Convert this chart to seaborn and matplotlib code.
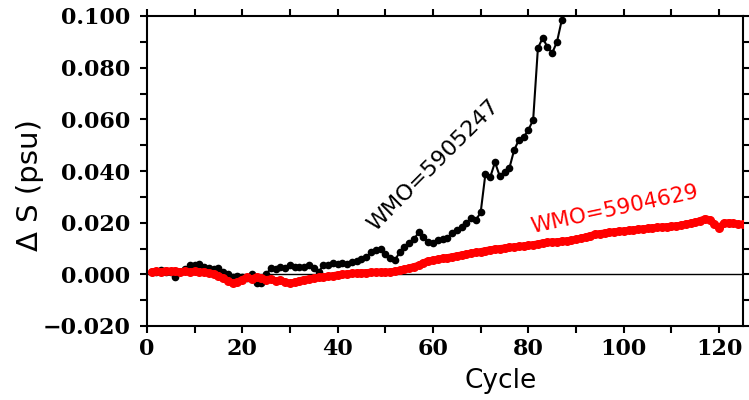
import numpy as np
import pandas as pd
import matplotlib
matplotlib.use("Agg")
import matplotlib.pyplot as plt
from matplotlib.ticker import MultipleLocator, FuncFormatter
import seaborn as sns

# float WMO=5905247 (black), one value per cycle, psu
black_cycles = list(range(1, 89))
black_ds = [
    0.0010, 0.0010, 0.0015, 0.0010, 0.0010, -0.0010, 0.0010, 0.0020, 0.0035, 0.0035,
    0.0040, 0.0030, 0.0025, 0.0020, 0.0023, 0.0010, 0.0000, -0.0010, -0.0005, -0.0010,
    -0.0015, 0.0003, -0.0035, -0.0035, 0.0000, 0.0023, 0.0020, 0.0027, 0.0025, 0.0035,
    0.0030, 0.0027, 0.0030, 0.0035, 0.0025, 0.0008, 0.0035, 0.0038, 0.0043, 0.0040,
    0.0043, 0.0040, 0.0047, 0.0050, 0.0060, 0.0066, 0.0085, 0.0093, 0.0100, 0.0080,
    0.0065, 0.0054, 0.0085, 0.0105, 0.0120, 0.0135, 0.0163, 0.0143, 0.0124, 0.0120,
    0.0132, 0.0135, 0.0140, 0.0160, 0.0170, 0.0185, 0.0198, 0.0220, 0.0210, 0.0240,
    0.0390, 0.0376, 0.0434, 0.0380, 0.0396, 0.0410, 0.0480, 0.0520, 0.0530, 0.0560,
    0.0597, 0.0876, 0.0915, 0.0880, 0.0857, 0.0900, 0.0984, 0.1060,
]

# float WMO=5904629 (red)
red_cycles = list(range(1, 126))
red_ds = [
    0.0010, 0.0012, 0.0010, 0.0014, 0.0011, 0.0013, 0.0010, 0.0012, 0.0009, 0.0011,
    0.0008, 0.0010, 0.0005, 0.0002, -0.0005, -0.0015, -0.0025, -0.0035, -0.0030, -0.0020,
    -0.0012, -0.0018, -0.0010, -0.0015, -0.0020, -0.0018, -0.0025, -0.0022, -0.0030, -0.0035,
    -0.0030, -0.0025, -0.0020, -0.0018, -0.0015, -0.0012, -0.0010, -0.0008, -0.0005, -0.0002,
    0.0000, 0.0002, 0.0004, 0.0005, 0.0006, 0.0007, 0.0008, 0.0008, 0.0009, 0.0008,
    0.0010, 0.0012, 0.0015, 0.0020, 0.0025, 0.0030, 0.0035, 0.0045, 0.0052, 0.0055,
    0.0058, 0.0062, 0.0065, 0.0068, 0.0072, 0.0075, 0.0078, 0.0082, 0.0085, 0.0088,
    0.0092, 0.0095, 0.0098, 0.0100, 0.0102, 0.0105, 0.0106, 0.0108, 0.0110, 0.0112,
    0.0115, 0.0118, 0.0122, 0.0124, 0.0125, 0.0126, 0.0128, 0.0130, 0.0132, 0.0135,
    0.0140, 0.0145, 0.0150, 0.0155, 0.0158, 0.0160, 0.0162, 0.0165, 0.0167, 0.0168,
    0.0170, 0.0172, 0.0175, 0.0176, 0.0178, 0.0180, 0.0182, 0.0183, 0.0185, 0.0186,
    0.0188, 0.0190, 0.0195, 0.0198, 0.0202, 0.0208, 0.0215, 0.0212, 0.0195, 0.0180,
    0.0198, 0.0200, 0.0197, 0.0195, 0.0193,
]

black_label = "WMO=5905247"
red_label = "WMO=5904629"

sns.set_style("ticks")
plt.rcParams["font.family"] = ["DejaVu Sans"]
plt.rcParams.update({"text.color": "black", "axes.labelcolor": "black",
                     "axes.edgecolor": "black", "xtick.color": "black",
                     "ytick.color": "black"})

df_black = pd.DataFrame({"cycle": black_cycles, "ds": black_ds})
df_red = pd.DataFrame({"cycle": red_cycles, "ds": red_ds})

fig = plt.figure(figsize=(7.49, 4.0), dpi=100)
ax = fig.add_axes([0.196, 0.185, 0.796, 0.775])

ax.axhline(0, color="black", lw=1.0, zorder=1)

sns.lineplot(data=df_black, x="cycle", y="ds", ax=ax, color="black",
             lw=1.5, marker="o", markersize=5.5, markeredgewidth=0, zorder=2)
sns.lineplot(data=df_red, x="cycle", y="ds", ax=ax, color="#ff0000",
             lw=5.0, marker="o", markersize=6.5, markeredgewidth=0, zorder=3)

ax.set_xlim(0, 125)
ax.set_ylim(-0.020, 0.100)

ax.xaxis.set_major_locator(MultipleLocator(20))
ax.xaxis.set_minor_locator(MultipleLocator(10))
ax.yaxis.set_major_locator(MultipleLocator(0.02))
ax.yaxis.set_minor_locator(MultipleLocator(0.01))
ax.yaxis.set_major_formatter(
    FuncFormatter(lambda v, p: f"{v:.3f}".replace("-", "\u2212")))

ax.tick_params(which="both", direction="out", length=5, width=1.5,
               top=True, right=True, labeltop=False, labelright=False)
ax.tick_params(axis="y", pad=7)
for lbl in ax.get_xticklabels() + ax.get_yticklabels():
    lbl.set_family("DejaVu Serif")
    lbl.set_fontweight("bold")
    lbl.set_fontsize(16)

for sp in ax.spines.values():
    sp.set_linewidth(1.5)
    sp.set_visible(True)

ax.set_xlabel("Cycle", fontsize=19)
ax.xaxis.set_label_coords(0.594, -0.135)
ax.set_ylabel("\u0394 S (psu)", fontsize=21)
ax.yaxis.set_label_coords(-0.172, 0.455)

ax.text(60, 0.042, black_label, color="black", fontsize=16,
        rotation=45, ha="center", va="center", rotation_mode="anchor")
ax.text(98, 0.0252, red_label, color="#ff0000", fontsize=15.5,
        rotation=12, ha="center", va="center", rotation_mode="anchor")

fig.savefig("out.png", dpi=100)
